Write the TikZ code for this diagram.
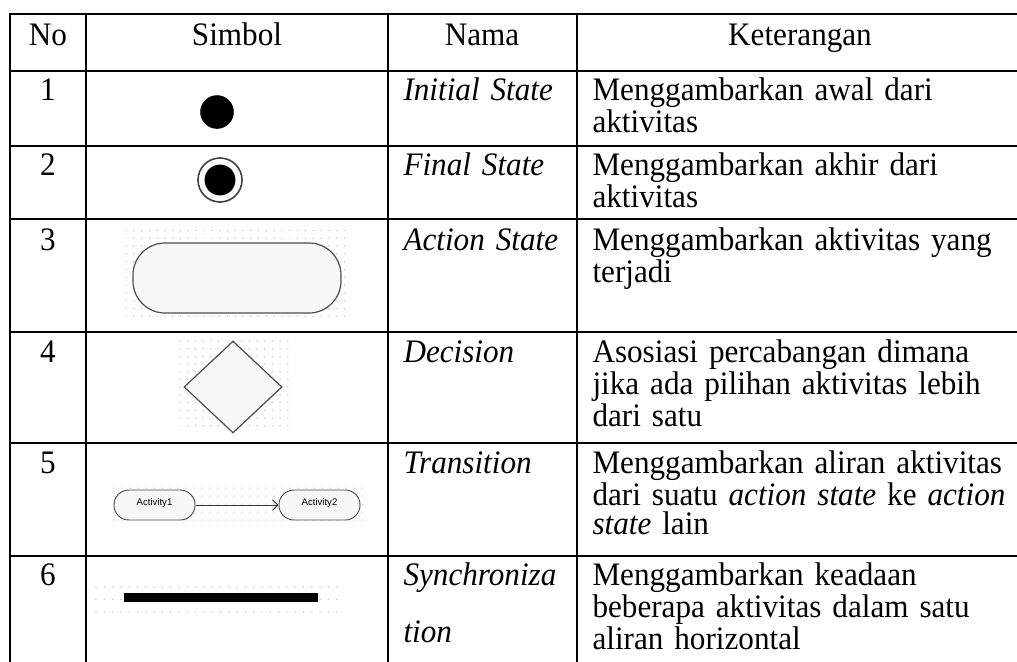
\documentclass[tikz,border=0pt]{standalone}
\usepackage{fontspec}
\setmainfont{Liberation Serif}[FakeStretch = 0.95]
\newfontfamily\activityfont{Liberation Sans}
\usetikzlibrary{shapes.geometric,arrows.meta}

\newcommand{\dotfield}[4]{%
  \foreach \dx in {#1} {
    \foreach \dy in {#2} {
      \fill[#3] (\dx,\dy) circle (#4);
    }
  }
}

\begin{document}
\begin{tikzpicture}[
     x = 0.375pt,
     y = -0.375pt,
     font = \fontsize{12.3}{10.8}\selectfont,
     rule/.style = {line width = 1pt, line cap = rect},
     head/.style = {anchor = base, inner sep = 0pt},
     cell/.style = {anchor = base west, inner sep = 0pt, text width = 160pt, align = left},
     dots/.style = {fill = black!25},
     initial/.style = {circle, fill = black, inner sep = 0pt, minimum size = 12.6pt},
     ring/.style = {circle, draw = black!75, line width = 0.6pt, inner sep = 0pt, minimum size = 16.5pt},
     action/.style = {draw = black!70, fill = black!3, line width = 0.45pt, inner sep = 0pt},
     decision/.style = {diamond, action, aspect = 1.07, minimum width = 36.75pt, minimum height = 34.5pt},
     activity/.style = {action, line width = 0.35pt, rounded corners = 5.6pt, minimum width = 30.4pt,
                        minimum height = 11.25pt, text depth = 2.4pt, font = \activityfont\fontsize{3.6}{4}\selectfont},
     sync/.style = {fill = black, inner sep = 0pt, minimum width = 72.75pt, minimum height = 3.4pt}
    ]
    \useasboundingbox (0,0) rectangle (1017,661);

    % table rules
    \foreach \y in {14,71,146,219,332,443,556}
      \draw[rule] (10,\y) -- (1030,\y);
    \foreach \x in {10,86,388,577}
      \draw[rule] (\x,14) -- (\x,670);

    % header
    \node[head] (hno) at (48,45) {No};
    \node[head] (hsimbol) at (237,45) {Simbol};
    \node[head] (hnama) at (482,45) {Nama};
    \node[head] (hket) at (800,45) {Keterangan};

    % numbers
    \node[head] (no1) at (48,100) {1};
    \node[head] (no2) at (48,175) {2};
    \node[head] (no3) at (48,250) {3};
    \node[head] (no4) at (48,362) {4};
    \node[head] (no5) at (48,473) {5};
    \node[head] (no6) at (48,585) {6};

    % symbols
    \node[initial] (start) at (217,112) {};

    \node[ring] (endring) at (220,180) {};
    \node[initial, minimum size = 11.6pt] (end) at (220,180) {};

    \dotfield{126,133.8,...,346}{230.5,238.3,...,321}{dots}{0.28pt}
    \node[action, rounded corners = 12pt, minimum width = 78pt, minimum height = 26.25pt] (act) at (237,278) {};

    \dotfield{180,187.7,...,288}{341,348.7,...,430}{dots}{0.28pt}
    \node[decision] (dec) at (233,387) {};

    \dotfield{114,122,...,367}{488,496,...,521}{dots}{0.28pt}
    \node[activity] (act1) at (154.5,505) {Activity1};
    \node[activity] (act2) at (319.5,505) {Activity2};
    \draw[-{Straight Barb[length = 2pt, width = 4pt]}, black!80, line width = 0.35pt] (act1) -- (act2);

    \dotfield{96,104.3,...,337}{587,599.5,612}{dots}{0.28pt}
    \node[sync] (bar) at (221,597.5) {};

    % names
    \node[cell] (nama1) at (403,100) {\textit{Initial State}};
    \node[cell] (nama2) at (403,175) {\textit{Final State}};
    \node[cell] (nama3) at (403,250) {\textit{Action State}};
    \node[cell] (nama4) at (403,362) {\textit{Decision}};
    \node[cell] (nama5) at (403,473) {\textit{Transition}};
    \node[cell] (nama6) at (403,585) {\textit{Synchroniza}\\[10.9pt]\textit{tion}};

    % descriptions
    \node[cell] (ket1) at (592,100) {Menggambarkan awal dari\\aktivitas};
    \node[cell] (ket2) at (592,175) {Menggambarkan akhir dari\\aktivitas};
    \node[cell] (ket3) at (592,250) {Menggambarkan aktivitas yang\\terjadi};
    \node[cell] (ket4) at (592,362) {Asosiasi percabangan dimana\\jika ada pilihan aktivitas lebih\\dari satu};
    \node[cell] (ket5) at (592,473) {Menggambarkan aliran aktivitas\\dari suatu \textit{action state} ke \textit{action}\\\textit{state} lain};
    \node[cell] (ket6) at (592,585) {Menggambarkan keadaan\\beberapa aktivitas dalam satu\\aliran horizontal};

   \end{tikzpicture}
\end{document}
